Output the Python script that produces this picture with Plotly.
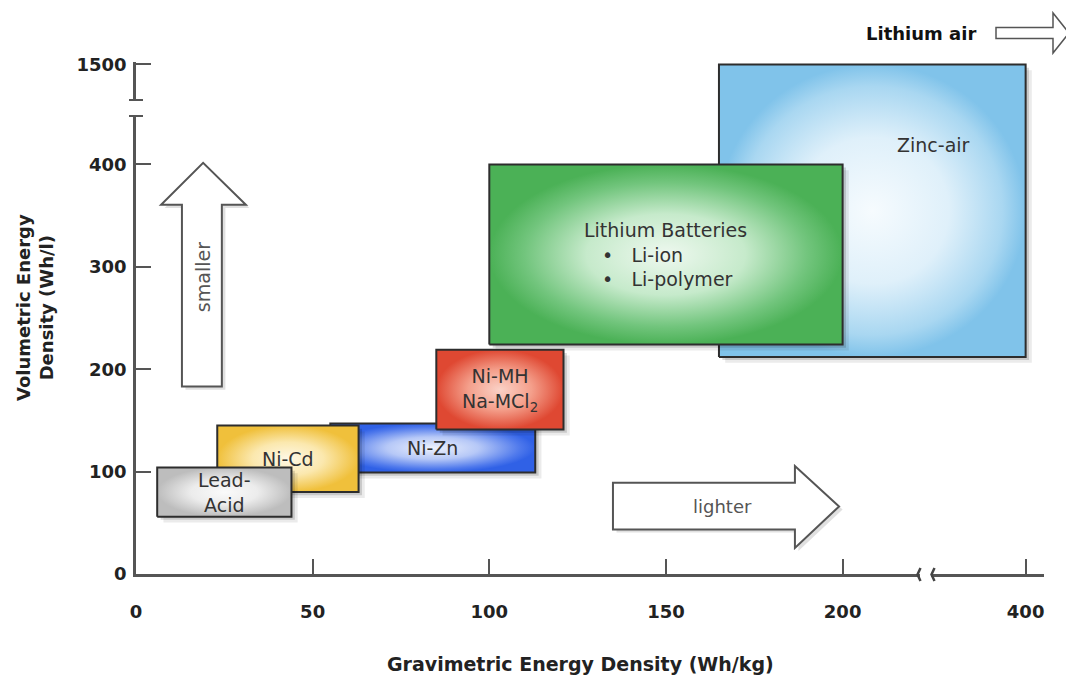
import numpy as np
import plotly.graph_objects as go

# Energy-density ranges of rechargeable battery chemistries
chemistries = ["Zinc-air", "Lithium Batteries", "Ni-Zn", "Ni-MH", "Ni-Cd", "Lead-Acid"]
grav_min = [165, 100, 55, 85, 23, 6]        # Wh/kg
grav_max = [400, 200, 113, 121, 63, 44]
vol_min = [212, 224, 99, 141, 80, 56]       # Wh/l
vol_max = [1500, 400, 147, 219, 145, 104]

x_tick_values = [0, 50, 100, 150, 200, 400]
y_tick_values = [0, 100, 200, 300, 400, 1500]

# Broken axes: everything past the break sits on a short compressed segment
X_BREAK_REAL, X_BREAK_AXIS = [0, 200, 400], [0, 200, 251.8]
Y_BREAK_REAL, Y_BREAK_AXIS = [0, 400, 1500], [0, 400, 497.6]


def xs(v):
    return np.interp(v, X_BREAK_REAL, X_BREAK_AXIS)


def ys(v):
    return np.interp(v, Y_BREAK_REAL, Y_BREAK_AXIS)


# Figure geometry
W, H = 1066, 684
M = dict(l=136, r=22, t=62, b=110)
PW, PH = W - M["l"] - M["r"], H - M["t"] - M["b"]
X_RANGE, Y_RANGE = [0, 257], [0, 500]


def paper(px, py):
    """Pixel position on the page -> paper coordinates (for decorations)."""
    return (px - M["l"]) / PW, (H - M["b"] - py) / PH


def paper_path(points, close=True):
    parts = []
    for i, (px, py) in enumerate(points):
        x, y = paper(px, py)
        parts.append(("M" if i == 0 else "L") + f"{x:.5f},{y:.5f}")
    return " ".join(parts) + (" Z" if close else "")


FONT = "DejaVu Sans"
nb = "\u00a0"

box_style = {
    "Zinc-air": dict(scale=[[0, "#f6fbfe"], [0.5, "#dff0fa"], [0.85, "#a9d7f1"], [1, "#80c3ea"]],
                     text="Zinc-air", pos=(0.70, 0.725), align="center"),
    "Lithium Batteries": dict(scale=[[0, "#eef8ef"], [0.45, "#c6eacb"], [0.8, "#72c57d"],
                                     [1, "#4bb156"]],
                              text=("Lithium Batteries<br>" + nb * 3 + "•" + nb * 3 + "Li-ion<br>"
                                    + nb * 3 + "•" + nb * 3 + "Li-polymer"),
                              pos=(0.5, 0.5), align="left"),
    "Ni-Zn": dict(scale=[[0, "#eef2fd"], [0.45, "#b6c8f7"], [0.85, "#4f79ec"], [1, "#3061e6"]],
                  text="Ni-Zn", pos=(0.5, 0.5), align="center"),
    "Ni-MH": dict(scale=[[0, "#fad2c7"], [0.5, "#f49f8b"], [1, "#df4832"]],
                  text="Ni-MH<br>Na-MCl<sub>2</sub>", pos=(0.5, 0.5), align="center"),
    "Ni-Cd": dict(scale=[[0, "#fef8e6"], [0.5, "#fbe8ae"], [1, "#f0c03b"]],
                  text="Ni-Cd", pos=(0.5, 0.5), align="center"),
    "Lead-Acid": dict(scale=[[0, "#fafafa"], [0.5, "#ececec"], [1, "#bdbdbd"]],
                      text="Lead-<br>Acid", pos=(0.5, 0.5), align="center"),
}

fig = go.Figure()


def rect_xy(x0, x1, y0, y1):
    return [x0, x1, x1, x0, x0], [y0, y0, y1, y1, y0]


for name, g0, g1, v0, v1 in zip(chemistries, grav_min, grav_max, vol_min, vol_max):
    st = box_style[name]
    x0, x1, y0, y1 = xs(g0), xs(g1), ys(v0), ys(v1)
    # soft drop shadow
    for k, alpha in ((2.2, 0.08), (1.2, 0.14)):
        sx, sy = rect_xy(x0 + 0.8 * k, x1 + 0.8 * k, y0 - 2.6 * k, y1 - 2.6 * k)
        fig.add_trace(go.Scatter(x=sx, y=sy, mode="lines", fill="toself",
                                 fillcolor=f"rgba(0,0,0,{alpha})", line=dict(width=0),
                                 hoverinfo="skip", showlegend=False))
    bx, by = rect_xy(x0, x1, y0, y1)
    fig.add_trace(go.Scatter(
        x=bx, y=by, mode="lines", fill="toself", name=name,
        fillcolor=st["scale"][-1][1],
        fillgradient=dict(type="radial", colorscale=st["scale"]),
        line=dict(color="#2d2d2d", width=2),
        hoverinfo="name", showlegend=False))
    fx, fy = st["pos"]
    fig.add_annotation(x=x0 + fx * (x1 - x0), y=y0 + fy * (y1 - y0), text=st["text"],
                       showarrow=False, align=st["align"], xanchor="center", yanchor="middle",
                       font=dict(family=FONT, size=19, color="#333333"))

# "smaller" arrow (up) and "lighter" arrow (right), in axis units
smaller_arrow = [(13.0, 183), (24.3, 183), (24.3, 360.5), (31.1, 360.5), (19.0, 401.5),
                 (7.1, 360.5), (13.0, 360.5)]
lighter_arrow = [(135.0, 43.5), (186.5, 43.5), (186.5, 25.5), (199.0, 66.0), (186.5, 105.5),
                 (186.5, 89.0), (135.0, 89.0)]


def axis_path(points, dx=0.0, dy=0.0):
    s = " ".join(("M" if i == 0 else "L") + f"{x + dx:.3f},{y + dy:.3f}"
                 for i, (x, y) in enumerate(points))
    return s + " Z"


for pts in (smaller_arrow, lighter_arrow):
    fig.add_shape(type="path", path=axis_path(pts, 1.0, -3.0), xref="x", yref="y",
                  fillcolor="rgba(0,0,0,0.12)", line=dict(width=0), layer="above")
    fig.add_shape(type="path", path=axis_path(pts), xref="x", yref="y",
                  fillcolor="white", line=dict(color="#555555", width=2), layer="above")

fig.add_annotation(x=19.0, y=290, text="smaller", textangle=-90, showarrow=False,
                   xanchor="center", yanchor="middle",
                   font=dict(family=FONT, size=19, color="#555555"))
fig.add_annotation(x=166.0, y=66, text="lighter", showarrow=False,
                   xanchor="center", yanchor="middle",
                   font=dict(family=FONT, size=18, color="#555555"))

# "Lithium air" pointer beyond the chart
li_air_arrow = [(996, 27.5), (1053, 27.5), (1053, 13), (1069, 33), (1053, 53),
                (1053, 38.5), (996, 38.5)]
fig.add_shape(type="path", path=paper_path(li_air_arrow), xref="paper", yref="paper",
              fillcolor="white", line=dict(color="#555555", width=1.5), layer="above")
lx, ly = paper(921, 33)
fig.add_annotation(x=lx, y=ly, xref="paper", yref="paper", text="Lithium air",
                   showarrow=False, xanchor="center", yanchor="middle",
                   font=dict(family=FONT, size=18, color="#111111", weight="bold"))

# axis-break marks
bx0, by0 = paper(128, 116)
bx1, by1 = paper(144, 100)
fig.add_shape(type="rect", x0=bx0, x1=bx1, y0=by0, y1=by1, xref="paper", yref="paper",
              fillcolor="white", line=dict(width=0), layer="above")
for py in (100, 116):
    ax0, ay = paper(129, py)
    ax1, _ = paper(143, py)
    fig.add_shape(type="line", x0=ax0, x1=ax1, y0=ay, y1=ay, xref="paper", yref="paper",
                  line=dict(color="#555555", width=2), layer="above")

cx0, cy0 = paper(920, 581)
cx1, cy1 = paper(931, 568)
fig.add_shape(type="rect", x0=cx0, x1=cx1, y0=cy0, y1=cy1, xref="paper", yref="paper",
              fillcolor="white", line=dict(width=0), layer="above")
for px in (919, 933):
    fig.add_shape(type="path", xref="paper", yref="paper", layer="above",
                  path=paper_path([(px + 1.5, 568), (px - 1.5, 574.5), (px + 1.5, 581)],
                                  close=False),
                  line=dict(color="#444444", width=2.5))

# axis titles
tx, ty = paper(580, 664)
fig.add_annotation(x=tx, y=ty, xref="paper", yref="paper",
                   text="Gravimetric Energy Density (Wh/kg)", showarrow=False,
                   xanchor="center", yanchor="middle",
                   font=dict(family=FONT, size=19, color="#222222", weight="bold"))
vx, vy = paper(35, 308)
fig.add_annotation(x=vx, y=vy, xref="paper", yref="paper",
                   text="Volumetric Energy<br>Density (Wh/l)", textangle=-90, showarrow=False,
                   xanchor="center", yanchor="middle",
                   font=dict(family=FONT, size=18, color="#222222", weight="bold"))

tick_font = dict(family=FONT, size=18, color="#222222", weight="bold")
fig.update_layout(
    width=W, height=H, margin=dict(M, pad=0),
    paper_bgcolor="white", plot_bgcolor="white",
    font=dict(family=FONT),
    showlegend=False,
    xaxis=dict(range=X_RANGE, tickmode="array", tickvals=xs(x_tick_values),
               ticktext=[str(v) for v in x_tick_values], ticks="inside", ticklen=15,
               tickwidth=1.5, tickcolor="#555555", showline=True, linecolor="#555555",
               linewidth=2.5, showgrid=False, zeroline=False, tickfont=tick_font,
               ticklabelstandoff=20, fixedrange=True),
    yaxis=dict(range=Y_RANGE, tickmode="array", tickvals=ys(y_tick_values),
               ticktext=[str(v) for v in y_tick_values], ticks="inside", ticklen=15,
               tickwidth=1.5, tickcolor="#555555", showline=True, linecolor="#555555",
               linewidth=2.5, showgrid=False, zeroline=False, tickfont=tick_font,
               ticklabelstandoff=3, fixedrange=True),
)

fig.write_html("out.html")
